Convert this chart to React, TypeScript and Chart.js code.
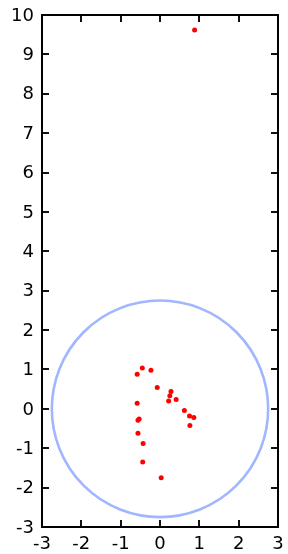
import React, { useEffect, useRef } from "react";
import { Chart, registerables } from "chart.js";

Chart.register(...registerables);

const pointsX = [-0.45, -0.58, -0.23, -0.07, 0.28, 0.25, 0.22, 0.41, -0.58, 0.62, 0.75, 0.86, 0.76, -0.53, -0.56, -0.56, -0.43, -0.44, 0.03, 0.88];
const pointsY = [1.04, 0.88, 0.98, 0.54, 0.44, 0.33, 0.2, 0.24, 0.14, -0.04, -0.18, -0.22, -0.42, -0.26, -0.29, -0.62, -0.88, -1.35, -1.75, 9.62];
const circleCenter = [0, 0];
const circleRadius = 2.75;
const xTicks = [-3, -2, -1, 0, 1, 2, 3];
const yTicks = [-3, -2, -1, 0, 1, 2, 3, 4, 5, 6, 7, 8, 9, 10];

const framePlugin = {
  id: "boxframe",
  beforeDatasetsDraw(chart: any) {
    const { ctx, scales } = chart;
    const xs = scales.x, ys = scales.y;
    const cx = xs.getPixelForValue(circleCenter[0]);
    const cy = ys.getPixelForValue(circleCenter[1]);
    const rx = Math.abs(xs.getPixelForValue(circleCenter[0] + circleRadius) - cx);
    const ry = Math.abs(ys.getPixelForValue(circleCenter[1] + circleRadius) - cy);
    ctx.save();
    ctx.strokeStyle = "#a0b6ff";
    ctx.lineWidth = 2.6;
    ctx.beginPath();
    ctx.ellipse(cx, cy, rx, ry, 0, 0, Math.PI * 2);
    ctx.stroke();
    ctx.restore();
  },
  afterDraw(chart: any) {
    const ctx = chart.ctx;
    const ca = chart.chartArea;
    const xs = chart.scales.x, ys = chart.scales.y;
    const left = Math.round(ca.left), right = Math.round(ca.right);
    const top = Math.round(ca.top), bottom = Math.round(ca.bottom);
    const tl = 7;
    const w = 2;
    ctx.save();
    ctx.fillStyle = "#111111";
    for (const v of xTicks) {
      const px = Math.round(xs.getPixelForValue(v));
      ctx.fillRect(px - 1, bottom - tl, w, tl);
      ctx.fillRect(px - 1, top, w, tl);
    }
    for (const v of yTicks) {
      const py = Math.round(ys.getPixelForValue(v));
      ctx.fillRect(left, py - 1, tl, w);
      ctx.fillRect(right - tl, py - 1, tl, w);
    }
    ctx.fillStyle = "#000000";
    ctx.fillRect(left - 1, top - 1, right - left + 2, w);
    ctx.fillRect(left - 1, bottom - 1, right - left + 2, w);
    ctx.fillRect(left - 1, top - 1, w, bottom - top + 2);
    ctx.fillRect(right - 1, top - 1, w, bottom - top + 2);
    ctx.restore();
  },
};

export default function App() {
  const ref = useRef<HTMLCanvasElement>(null);
  useEffect(() => {
    if (!ref.current) return;
    const data = pointsX.map((x, i) => ({ x, y: pointsY[i] }));
    const font = { family: "'DejaVu Sans', sans-serif", size: 18 };
    const chart = new Chart(ref.current, {
      type: "scatter",
      data: {
        datasets: [
          {
            data,
            backgroundColor: "#ff0000",
            borderColor: "#ff0000",
            pointRadius: 2.5,
            borderWidth: 0,
          },
        ],
      },
      options: {
        animation: false,
        responsive: false,
        maintainAspectRatio: false,
        layout: { padding: { top: 15, right: 10, left: 0, bottom: 0 } },
        plugins: { legend: { display: false }, tooltip: { enabled: false } },
        scales: {
          x: {
            type: "linear",
            min: -3,
            max: 3,
            afterBuildTicks: (s: any) => { s.ticks = xTicks.map((v) => ({ value: v })); },
            afterFit: (s: any) => { s.height = 27; s.paddingLeft = 0; s.paddingRight = 0; },
            grid: { display: false, drawTicks: false },
            border: { display: false },
            ticks: { color: "#000", font, padding: 7, maxRotation: 0, autoSkip: false },
          },
          y: {
            type: "linear",
            min: -3,
            max: 10,
            afterBuildTicks: (s: any) => { s.ticks = yTicks.map((v) => ({ value: v })); },
            afterFit: (s: any) => { s.width = 42; s.paddingTop = 0; s.paddingBottom = 0; },
            grid: { display: false, drawTicks: false },
            border: { display: false },
            ticks: { color: "#000", font, padding: 8, labelOffset: 1, autoSkip: false },
          },
        },
      },
      plugins: [framePlugin],
    });
    return () => chart.destroy();
  }, []);
  return (
    <div style={{ position: "fixed", left: 0, top: 0, width: 288, height: 554, background: "#fff" }}>
      <canvas ref={ref} width={288} height={554} style={{ display: "block" }} />
    </div>
  );
}
